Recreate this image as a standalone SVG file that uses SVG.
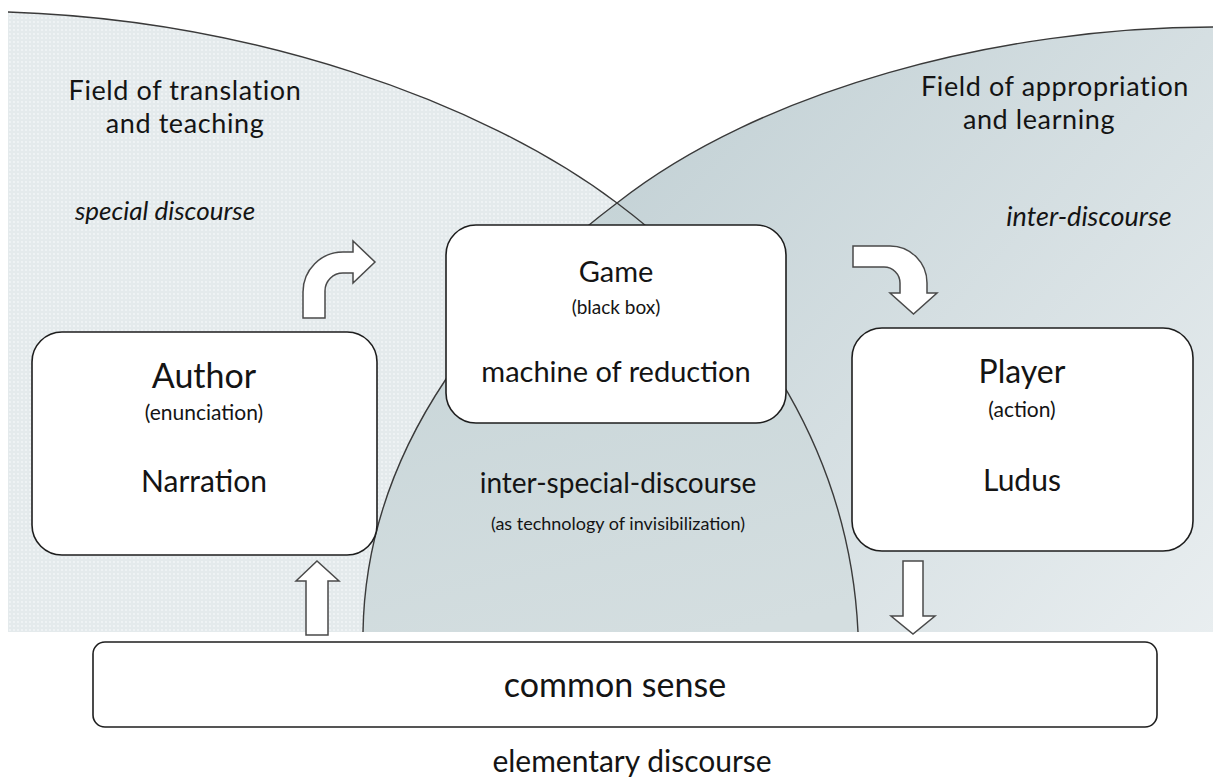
<svg xmlns="http://www.w3.org/2000/svg" width="1213" height="781" viewBox="0 0 1213 781">
<defs>
<pattern id="dots" width="4" height="4" patternUnits="userSpaceOnUse">
<rect width="4" height="4" fill="#e4eaec"/>
<circle cx="2" cy="2" r="0.9" fill="#f4f7f8"/>
</pattern>
<linearGradient id="rightGrad" gradientUnits="userSpaceOnUse" x1="650" y1="120" x2="1213" y2="640">
<stop offset="0" stop-color="#c4d2d6"/>
<stop offset="1" stop-color="#e9eef0"/>
</linearGradient>
<linearGradient id="lensGrad" gradientUnits="userSpaceOnUse" x1="600" y1="200" x2="700" y2="640">
<stop offset="0" stop-color="#c6d4d7"/>
<stop offset="1" stop-color="#d4dee0"/>
</linearGradient>
<style>
.arc{fill:none;stroke:#3a3a3a;stroke-width:1.4}
.box{fill:#fff;stroke:#1e1e1e;stroke-width:1.6}
.arrow{fill:#fff;stroke:#4a4a4a;stroke-width:1.5;stroke-linejoin:miter}
text{font-family:Lato,"Liberation Sans",sans-serif;fill:#141414;text-anchor:middle}
.it{font-style:italic}
.title{font-size:27px;letter-spacing:0.6px}
</style>
</defs>

<g id="fields">
<path id="left-field" d="M8,632 L8,12 C 250,20 480,100 617,203 C 760,310 850,460 858,632 Z" fill="url(#dots)"/>
<path id="right-field" d="M1213,27 C 1000,27 760,90 617,203 C 495,295 366,440 363,632 L1213,632 Z" fill="url(#rightGrad)"/>
<path id="lens" d="M617,203 C 760,310 850,460 858,632 L363,632 C 366,440 495,295 617,203 Z" fill="url(#lensGrad)"/>
<path class="arc" d="M8,12 C 250,20 480,100 617,203 C 760,310 850,460 858,632"/>
<path class="arc" d="M1213,27 C 1000,27 760,90 617,203 C 495,295 366,440 363,632"/>
</g>

<g id="field-labels">
<text class="title"><tspan x="185" y="100">Field of translation</tspan><tspan x="185" y="133">and teaching</tspan></text>
<text x="165" y="220" font-size="26" class="it">special discourse</text>
<text class="title"><tspan x="1055" y="96">Field of appropriation</tspan><tspan x="1039" y="129">and learning</tspan></text>
<text x="1089" y="226" font-size="27" class="it">inter-discourse</text>
<text x="618" y="493" font-size="28">inter-special-discourse</text>
<text x="618" y="530" font-size="18">(as technology of invisibilization)</text>
<text x="632" y="772" font-size="30">elementary discourse</text>
</g>

<g id="connectors">
<path class="arrow" d="M303,318 L303,292 A40,40 0 0 1 343,252 L353,252 L353,241 L375,262 L353,283 L353,273 L343,273 A18,18 0 0 0 325,291 L325,318 Z"/>
<path class="arrow" d="M853,246 L890,246 A37,37 0 0 1 927,283 L927,293 L937,293 L913.5,314 L890,293 L900,293 L900,283 A16,16 0 0 0 884,267 L853,267 Z"/>
<path class="arrow" d="M306,635 L306,581 L296,581 L317,561 L339,581 L328,581 L328,635 Z"/>
<path class="arrow" d="M903,561 L923,561 L923,616 L935,616 L913,634 L891,616 L903,616 Z"/>
</g>

<g id="author">
<rect class="box" x="32" y="332" width="345" height="223" rx="30"/>
<text x="204" y="388" font-size="34">Author</text>
<text x="204" y="420" font-size="21">(enunciation)</text>
<text x="204" y="492" font-size="30">Narration</text>
</g>

<g id="game">
<rect class="box" x="446" y="225" width="340" height="198" rx="30" stroke-width="2.6"/>
<text x="616" y="282" font-size="29">Game</text>
<text x="616" y="314" font-size="19">(black box)</text>
<text x="616" y="382" font-size="29">machine of reduction</text>
</g>

<g id="player">
<rect class="box" x="852" y="328" width="341" height="223" rx="30"/>
<text x="1022" y="383" font-size="32">Player</text>
<text x="1022" y="417" font-size="21">(action)</text>
<text x="1022" y="491" font-size="30">Ludus</text>
</g>

<g id="common-sense">
<rect class="box" x="93" y="642" width="1064" height="85" rx="12" stroke-width="3.5"/>
<text x="615" y="697" font-size="34">common sense</text>
</g>
</svg>
